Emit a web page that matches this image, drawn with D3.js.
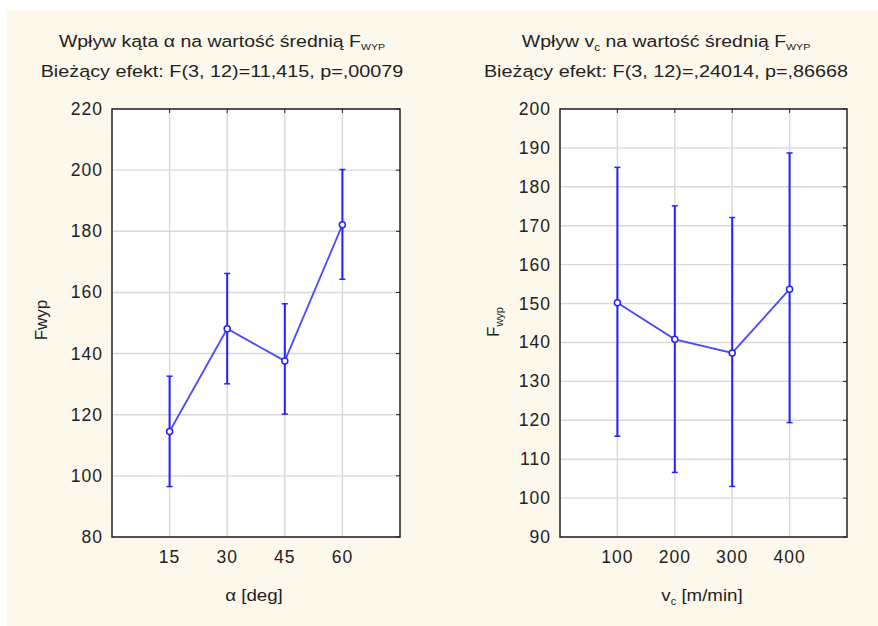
<!DOCTYPE html>
<html>
<head>
<meta charset="utf-8">
<script src="https://cdn.jsdelivr.net/npm/d3@7"></script>
<style>
  body { margin: 0; background: #fff; }
  svg text { font-family: "Liberation Sans", Arial, sans-serif; fill: #222; }
</style>
</head>
<body>
<svg id="chart" width="878" height="626"></svg>
<script>
// left panel: angle alpha
var alphaCats = [15, 30, 45, 60];
var alphaMean = [114.5, 148.1, 137.6, 182.1];
var alphaLow  = [96.5, 130.1, 120.2, 164.3];
var alphaHigh = [132.6, 166.2, 156.3, 200.2];
var alphaTicks = [80, 100, 120, 140, 160, 180, 200, 220];

// right panel: cutting speed vc
var vcCats = [100, 200, 300, 400];
var vcMean = [150.2, 140.8, 137.3, 153.7];
var vcLow  = [115.9, 106.6, 103.0, 119.4];
var vcHigh = [185.0, 175.1, 172.1, 188.7];
var vcTicks = [90, 100, 110, 120, 130, 140, 150, 160, 170, 180, 190, 200];

var svg = d3.select("#chart");

// cream panel background
svg.append("rect")
  .attr("x", 7).attr("y", 10)
  .attr("width", 871).attr("height", 616)
  .attr("fill", "#fdf8ec");

// the source picture is a bit stretched sideways, so text gets a x-scale
function stretchedText(g, x, y, size, sx) {
  return g.append("text")
    .attr("transform", "translate(" + x + "," + y + ") scale(" + sx + ",1)")
    .attr("text-anchor", "middle").attr("font-size", size);
}

function drawPanel(opt) {
  var g = svg.append("g");
  var x = d3.scaleLinear().domain(opt.xDomain).range([opt.left, opt.right]);
  var y = d3.scaleLinear().domain(opt.yDomain).range([opt.bottom, opt.top]);

  g.append("rect")
    .attr("x", opt.left).attr("y", opt.top)
    .attr("width", opt.right - opt.left).attr("height", opt.bottom - opt.top)
    .attr("fill", "#fff");

  // grid
  g.selectAll(".hg").data(opt.yTicks).enter().append("line")
    .attr("x1", opt.left).attr("x2", opt.right)
    .attr("y1", d => y(d)).attr("y2", d => y(d))
    .attr("stroke", "#d8d8d8").attr("stroke-width", 1.4);
  g.selectAll(".vg").data(opt.cats).enter().append("line")
    .attr("x1", d => x(d)).attr("x2", d => x(d))
    .attr("y1", opt.top).attr("y2", opt.bottom)
    .attr("stroke", "#d8d8d8").attr("stroke-width", 1.4);

  // small ticks on top and right edges
  g.selectAll(".tt").data(opt.cats).enter().append("line")
    .attr("x1", d => x(d)).attr("x2", d => x(d))
    .attr("y1", opt.top).attr("y2", opt.top + 4)
    .attr("stroke", "#222").attr("stroke-width", 1);
  g.selectAll(".rt").data(opt.yTicks).enter().append("line")
    .attr("x1", opt.right - 4).attr("x2", opt.right)
    .attr("y1", d => y(d)).attr("y2", d => y(d))
    .attr("stroke", "#222").attr("stroke-width", 1);

  g.append("rect")
    .attr("x", opt.left).attr("y", opt.top)
    .attr("width", opt.right - opt.left).attr("height", opt.bottom - opt.top)
    .attr("fill", "none").attr("stroke", "#222").attr("stroke-width", 1.5);

  // y tick labels
  g.selectAll(".yl").data(opt.yTicks).enter().append("text")
    .attr("x", opt.left - 9).attr("y", d => y(d) + 6)
    .attr("text-anchor", "end").attr("font-size", 17.5)
    .attr("letter-spacing", 1)
    .text(d => d);
  // x tick labels
  g.selectAll(".xl").data(opt.cats).enter().append("text")
    .attr("x", d => x(d)).attr("y", opt.bottom + 26)
    .attr("text-anchor", "middle").attr("font-size", 17.5)
    .attr("letter-spacing", 1)
    .text(d => d);

  // error bars
  var data = opt.cats.map((c, i) => ({c: c, m: opt.mean[i], lo: opt.low[i], hi: opt.high[i]}));
  var blue = "#2222ff";
  g.selectAll(".eb").data(data).enter().append("line")
    .attr("x1", d => x(d.c)).attr("x2", d => x(d.c))
    .attr("y1", d => y(d.lo)).attr("y2", d => y(d.hi))
    .attr("stroke", blue).attr("stroke-width", 2);
  ["lo", "hi"].forEach(function (k) {
    g.selectAll(".cap" + k).data(data).enter().append("line")
      .attr("x1", d => x(d.c) - 3).attr("x2", d => x(d.c) + 3)
      .attr("y1", d => y(d[k])).attr("y2", d => y(d[k]))
      .attr("stroke", blue).attr("stroke-width", 1.5);
  });

  g.append("path")
    .datum(data)
    .attr("d", d3.line().x(d => x(d.c)).y(d => y(d.m)))
    .attr("fill", "none").attr("stroke", "#4a4aff").attr("stroke-width", 1.8);

  g.selectAll(".pt").data(data).enter().append("circle")
    .attr("cx", d => x(d.c)).attr("cy", d => y(d.m)).attr("r", 3)
    .attr("fill", "#fff").attr("stroke", blue).attr("stroke-width", 1.5);

  // titles
  opt.title(stretchedText(g, opt.titleX, 47, 16.5, 1.18));
  stretchedText(g, opt.titleX, 77, 16.5, 1.2).text(opt.subtitle);

  // axis titles
  opt.xTitle(stretchedText(g, opt.xTitleX, 601, 17, 1.1));
  var yt = g.append("text")
    .attr("transform", "translate(" + opt.yTitleX + "," + opt.yTitleY + ") rotate(-90)")
    .attr("text-anchor", "middle").attr("font-size", 17);
  opt.yTitle(yt);
}

drawPanel({
  left: 112, right: 400, top: 109, bottom: 537,
  xDomain: [0, 75], yDomain: [80, 220],
  cats: alphaCats, mean: alphaMean, low: alphaLow, high: alphaHigh, yTicks: alphaTicks,
  titleX: 222,
  title: function (t) {
    t.append("tspan").text("Wpływ kąta α na wartość średnią F");
    t.append("tspan").attr("font-size", 9).attr("dy", 3).text("WYP");
  },
  subtitle: "Bieżący efekt: F(3, 12)=11,415, p=,00079",
  xTitleX: 254,
  xTitle: function (t) { t.text("α [deg]"); },
  yTitleX: 47, yTitleY: 320,
  yTitle: function (t) { t.text("Fwyp"); }
});

drawPanel({
  left: 560, right: 847, top: 109, bottom: 537,
  xDomain: [0, 500], yDomain: [90, 200],
  cats: vcCats, mean: vcMean, low: vcLow, high: vcHigh, yTicks: vcTicks,
  titleX: 666,
  title: function (t) {
    t.append("tspan").text("Wpływ v");
    t.append("tspan").attr("font-size", 10).attr("dy", 4).text("c");
    t.append("tspan").attr("dy", -4).text(" na wartość średnią F");
    t.append("tspan").attr("font-size", 9).attr("dy", 3).text("WYP");
  },
  subtitle: "Bieżący efekt: F(3, 12)=,24014, p=,86668",
  xTitleX: 702,
  xTitle: function (t) {
    t.append("tspan").text("v");
    t.append("tspan").attr("font-size", 10).attr("dy", 4).text("c");
    t.append("tspan").attr("dy", -4).text(" [m/min]");
  },
  yTitleX: 499, yTitleY: 322,
  yTitle: function (t) {
    t.append("tspan").text("F");
    t.append("tspan").attr("font-size", 11).attr("dy", 4).text("wyp");
  }
});
</script>
</body>
</html>
